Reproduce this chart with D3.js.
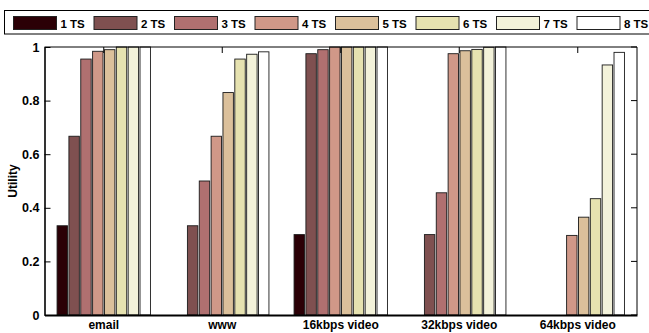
<!DOCTYPE html>
<html>
<head>
<meta charset="utf-8">
<script src="https://cdn.jsdelivr.net/npm/d3@7"></script>
<style>
  html, body { margin: 0; padding: 0; background: #fff; }
  svg { display: block; font-family: "Liberation Sans", Arial, sans-serif; }
</style>
</head>
<body>
<svg id="chart" width="649" height="333"></svg>
<script>
// Traffic classes on the x axis
const categories = ["email", "www", "16kbps video", "32kbps video", "64kbps video"];
// Number of time slots, one series each
const seriesNames = ["1 TS", "2 TS", "3 TS", "4 TS", "5 TS", "6 TS", "7 TS", "8 TS"];
const seriesColors = ["#2b0006", "#7f5050", "#b07070", "#d09888", "#dbc09b", "#e6e2b0", "#f3f2da", "#ffffff"];
// Utility per category, one array per time-slot count
const ts1 = [0.333, 0, 0.30, 0, 0];
const ts2 = [0.667, 0.333, 0.975, 0.30, 0];
const ts3 = [0.955, 0.50, 0.99, 0.456, 0];
const ts4 = [0.984, 0.667, 1.0, 0.975, 0.297];
const ts5 = [0.99, 0.83, 1.0, 0.986, 0.365];
const ts6 = [1.0, 0.955, 1.0, 0.991, 0.434];
const ts7 = [1.0, 0.973, 1.0, 0.999, 0.933];
const ts8 = [1.0, 0.982, 1.0, 1.0, 0.98];
const seriesValues = [ts1, ts2, ts3, ts4, ts5, ts6, ts7, ts8];
const yTicks = [0, 0.2, 0.4, 0.6, 0.8, 1];

const svg = d3.select("#chart");
const margin = { left: 44.5, right: 12, top: 47, bottom: 18 };
const W = 649, H = 333;
const x0 = margin.left, x1 = W - margin.right, y0 = H - margin.bottom, y1 = margin.top;

const x = d3.scaleBand().domain(categories).range([x0, x1]).paddingInner(0).paddingOuter(0);
const groupW = x.bandwidth() * 0.8;
const xs = d3.scaleBand().domain(seriesNames).range([0, groupW]);
const barW = xs.bandwidth() * 0.88;
const y = d3.scaleLinear().domain([0, 1]).range([y0, y1]);

// Bars
const g = svg.append("g");
seriesNames.forEach((name, si) => {
  g.selectAll(null)
    .data(categories.map((c, ci) => ({ c, v: seriesValues[si][ci] })))
    .enter().append("rect")
    .attr("x", d => x(d.c) + (x.bandwidth() - groupW) / 2 + xs(name) + (xs.bandwidth() - barW) / 2)
    .attr("y", d => y(d.v))
    .attr("width", barW)
    .attr("height", d => y(0) - y(d.v))
    .attr("fill", seriesColors[si])
    .attr("stroke", "#1a1a1a")
    .attr("stroke-width", 0.9);
});

// Frame: top and right lines
svg.append("line").attr("x1", x0).attr("x2", x1).attr("y1", y1).attr("y2", y1)
  .attr("stroke", "#000").attr("stroke-width", 1);
svg.append("line").attr("x1", x1).attr("x2", x1).attr("y1", y1).attr("y2", y0)
  .attr("stroke", "#000").attr("stroke-width", 1);

// Inner ticks on the top and right edges
svg.selectAll(null).data(categories).enter().append("line")
  .attr("x1", d => x(d) + x.bandwidth() / 2).attr("x2", d => x(d) + x.bandwidth() / 2)
  .attr("y1", y1).attr("y2", y1 + 6).attr("stroke", "#000");
svg.selectAll(null).data(yTicks).enter().append("line")
  .attr("x1", x1).attr("x2", x1 - 6)
  .attr("y1", d => y(d)).attr("y2", d => y(d)).attr("stroke", "#000");

// Left axis
const yAxis = d3.axisLeft(y).tickValues(yTicks).tickFormat(d => d3.format("")(d)).tickSizeInner(-6).tickSizeOuter(0).tickPadding(5);
const ya = svg.append("g").attr("transform", `translate(${x0},0)`).call(yAxis);
ya.select(".domain").attr("stroke", "#000").attr("stroke-width", 1.6);
ya.selectAll("text").attr("font-size", 12.5).attr("font-weight", "bold").attr("fill", "#000");

// Bottom axis
const xAxis = d3.axisBottom(x).tickSize(0).tickPadding(5);
const xa = svg.append("g").attr("transform", `translate(0,${y0})`).call(xAxis);
xa.select(".domain").attr("stroke", "#000").attr("stroke-width", 2);
xa.selectAll("text").attr("font-size", 12).attr("font-weight", "bold").attr("fill", "#000");

// Y label
svg.append("text").attr("transform", `translate(17,${(y0 + y1) / 2}) rotate(-90)`)
  .attr("text-anchor", "middle").attr("font-size", 12).attr("font-weight", "bold").text("Utility");

// Legend
const legend = svg.append("g");
legend.append("rect").attr("x", 4.5).attr("y", 10.5).attr("width", 660).attr("height", 23.5)
  .attr("fill", "#fff").attr("stroke", "#000").attr("stroke-width", 1);
const lx = d3.scalePoint().domain(seriesNames).range([13.5, 577]);
seriesNames.forEach((name, i) => {
  legend.append("rect").attr("x", lx(name)).attr("y", 16.5).attr("width", 43).attr("height", 13)
    .attr("fill", seriesColors[i]).attr("stroke", "#222").attr("stroke-width", 1);
  legend.append("text").attr("x", lx(name) + 47).attr("y", 27.5)
    .attr("font-size", 11.5).attr("font-weight", "bold").text(name);
});
</script>
</body>
</html>
